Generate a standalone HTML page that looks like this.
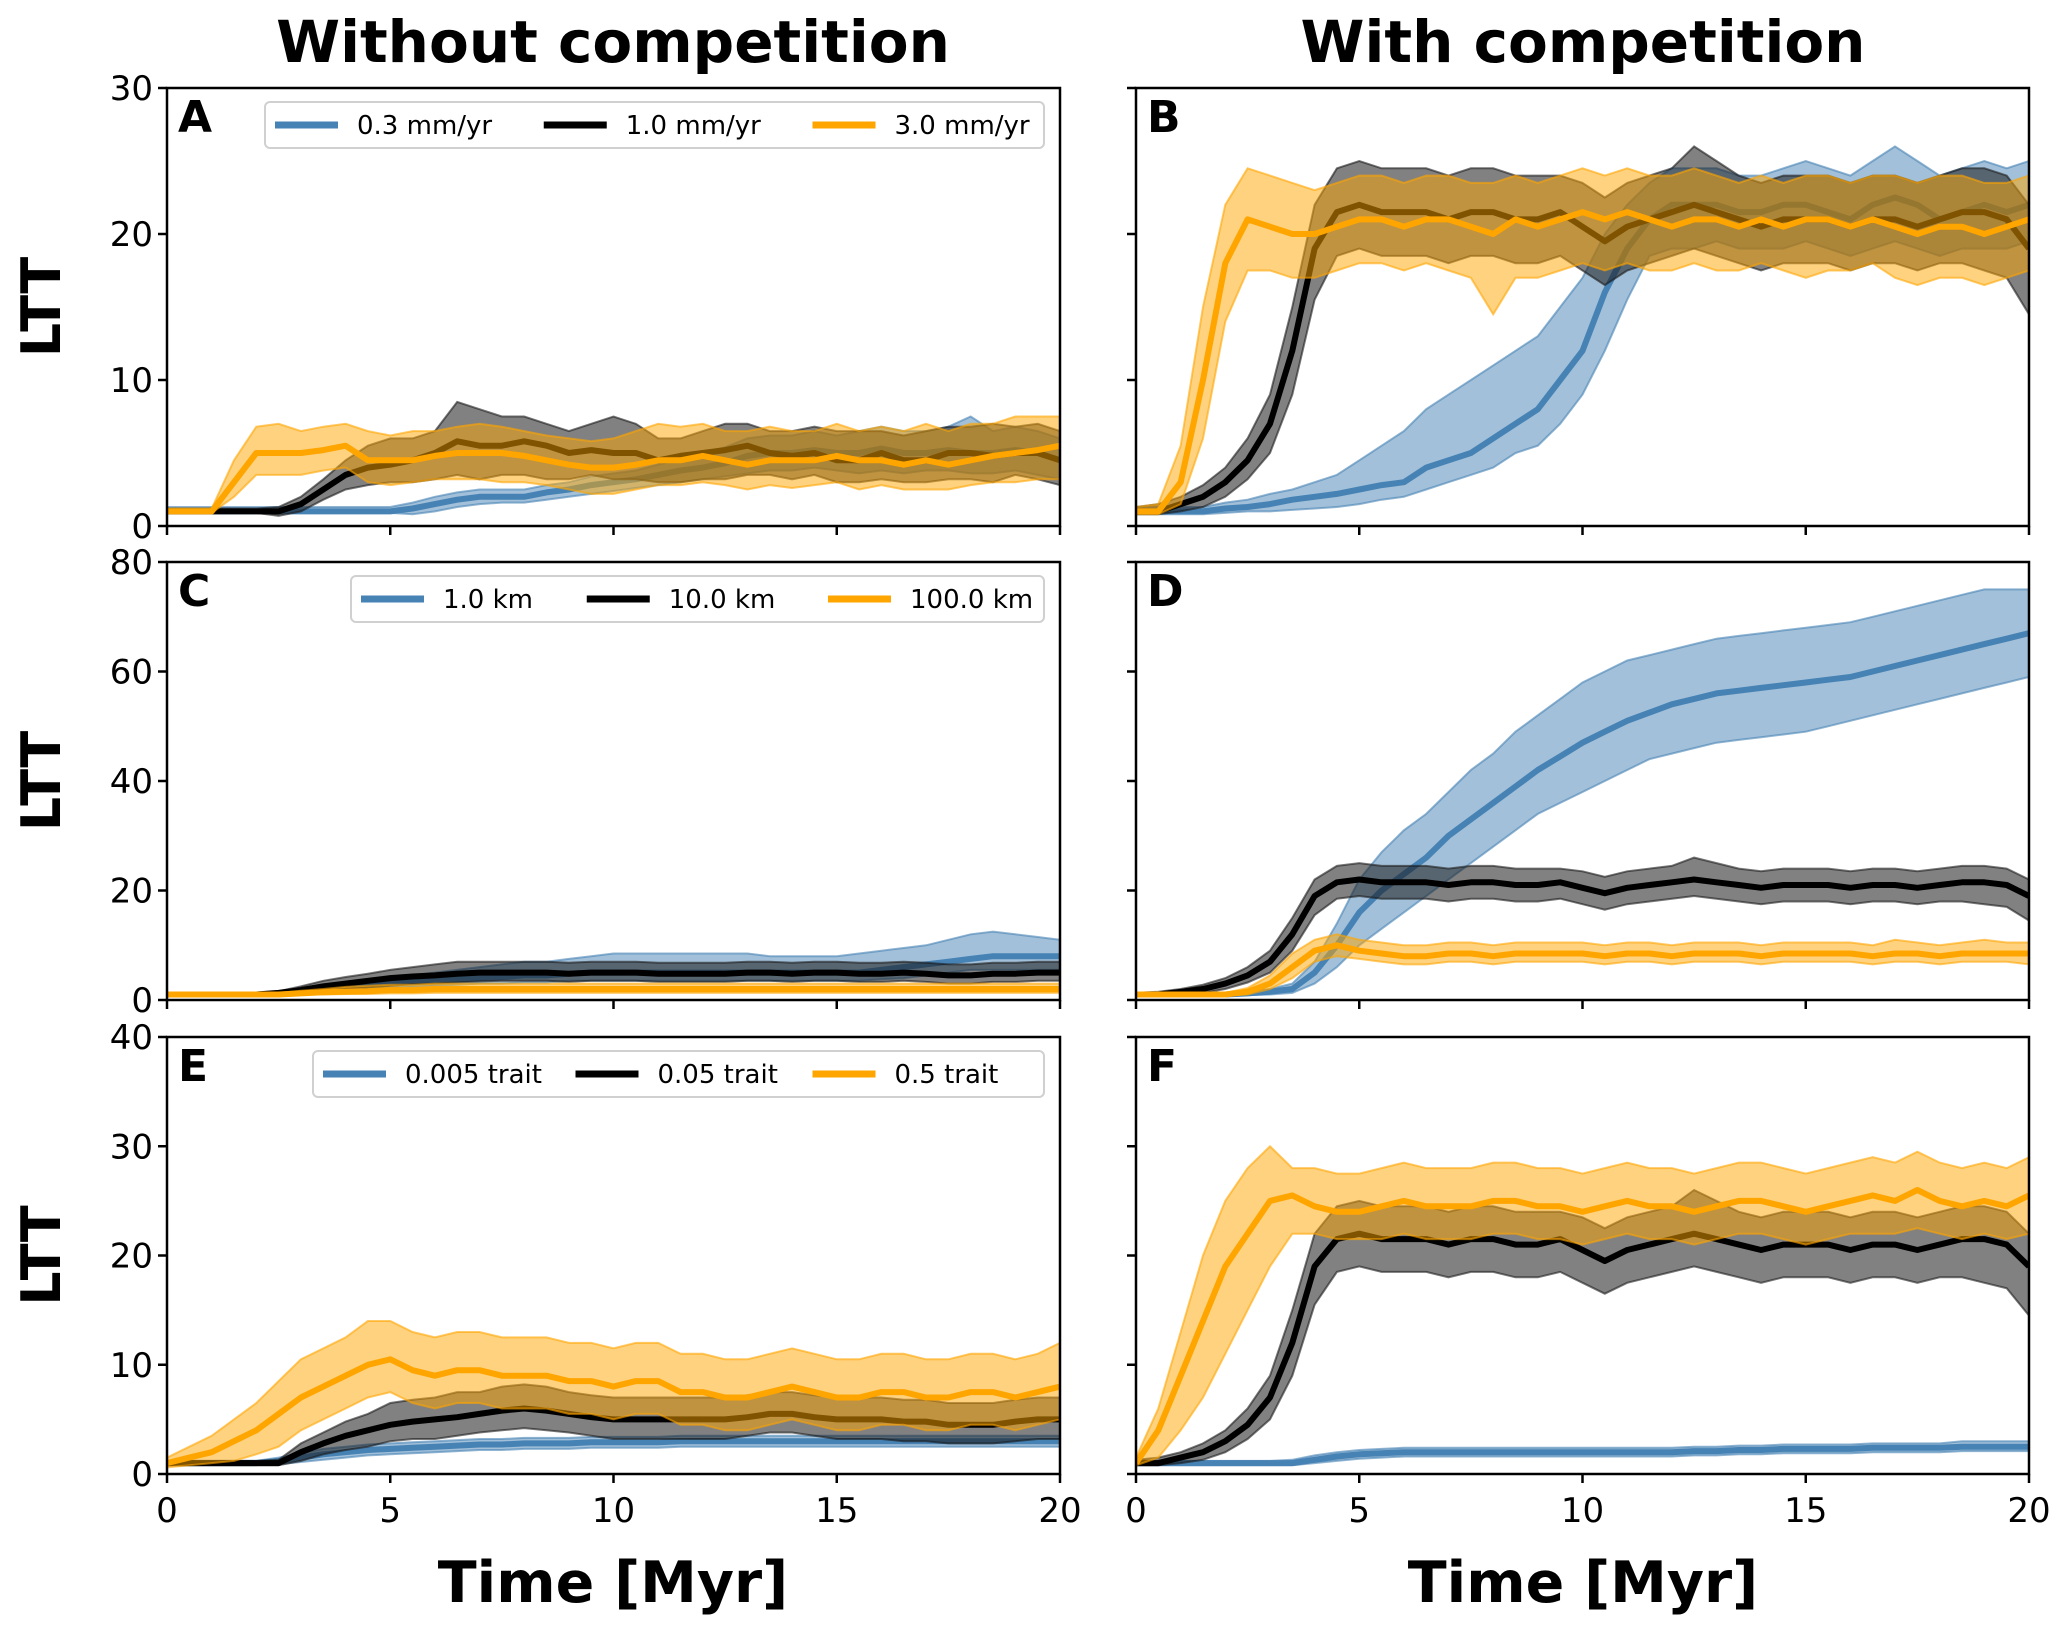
<!DOCTYPE html>
<html><head><meta charset="utf-8"><style>
html,body{margin:0;padding:0;background:#fff}
svg{display:block}
text{font-family:"DejaVu Sans","Liberation Sans",sans-serif}
</style></head><body>
<svg id="fig" width="2067" height="1633" viewBox="0 0 2067 1633" xmlns="http://www.w3.org/2000/svg">
<text x="613" y="62" font-size="58" font-weight="bold" text-anchor="middle">Without competition</text>
<text x="1583" y="62" font-size="58" font-weight="bold" text-anchor="middle">With competition</text>
<text x="613" y="1602" font-size="57" font-weight="bold" text-anchor="middle">Time [Myr]</text>
<text x="1583" y="1602" font-size="57" font-weight="bold" text-anchor="middle">Time [Myr]</text>
<g id="plots"></g>
</svg>
<script>
const timeMyr = [0,0.5,1,1.5,2,2.5,3,3.5,4,4.5,5,5.5,6,6.5,7,7.5,8,8.5,9,9.5,10,10.5,11,11.5,12,12.5,13,13.5,14,14.5,15,15.5,16,16.5,17,17.5,18,18.5,19,19.5,20];
const xTicks = [0,5,10,15,20];
const yTicksA = [0,10,20,30];
const yTicksC = [0,20,40,60,80];
const yTicksE = [0,10,20,30,40];
const legendA = ["0.3 mm/yr","1.0 mm/yr","3.0 mm/yr"];
const legendC = ["1.0 km","10.0 km","100.0 km"];
const legendE = ["0.005 trait","0.05 trait","0.5 trait"];

const blueA_m=[1,1,1,1,1,1,1,1,1,1,1,1.2,1.5,1.8,2,2,2,2.3,2.5,2.8,3,3.2,3.5,3.8,4,4.3,4.8,5,5,5.2,5,5,5.3,5,5,5.2,5,5,5.2,5,4.5];
const blueA_lo=[0.9,0.9,0.9,0.9,0.9,0.9,0.9,0.9,0.9,0.9,0.9,0.8,1,1.3,1.5,1.6,1.6,1.8,2,2.2,2.4,2.6,2.8,3,3.2,3.4,3.6,3.8,3.8,4,3.8,3.6,3.8,3.6,3.8,3.8,3.6,3.6,3.8,3.5,3.2];
const blueA_hi=[1.3,1.3,1.3,1.3,1.3,1.3,1.3,1.3,1.3,1.3,1.3,1.6,2,2.3,2.5,2.5,2.5,2.8,3,3.4,3.6,3.8,4.2,4.6,5,5.4,6,6.2,6.2,6.5,6.2,6.5,6.8,6.5,6.5,6.8,7.5,6.5,6.8,6.5,6];
const blackA_m=[1,1,1,1,1,1,1.5,2.5,3.5,4,4.2,4.5,5,5.8,5.5,5.5,5.8,5.5,5,5.2,5,5,4.5,4.8,5,5.2,5.5,5,4.8,5,4.5,4.5,5,4.5,4.5,5,5,4.8,5,5,4.5];
const blackA_lo=[0.9,0.9,0.9,0.9,0.9,0.7,1,1.8,2.5,2.8,3,3,3.2,3.5,3.2,3.5,3.5,3.2,3.2,3.5,3.2,3.2,3,3,3.2,3.2,3.5,3.5,3.2,3.5,3,3,3.2,3,3,3.2,3.2,3,3.5,3.2,2.8];
const blackA_hi=[1.2,1.2,1.2,1.2,1.2,1.3,2,3.2,4.5,5.5,6,6,6.5,8.5,8,7.5,7.5,7,6.5,7,7.5,7,6,6,6.5,7,7,6.5,6.5,6.8,6.5,6.5,6.5,6.2,6.5,6.8,6.8,7,6.8,7,6.5];
const orangeA_m=[1,1,1,3,5,5,5,5.2,5.5,4.5,4.5,4.5,4.8,5,5,5,4.8,4.5,4.2,4,4,4.2,4.5,4.5,4.8,4.5,4.2,4.5,4.5,4.5,4.8,4.5,4.5,4.2,4.5,4.2,4.5,4.8,5,5.2,5.5];
const orangeA_lo=[0.9,0.9,0.9,2,3.5,3.5,3.5,3.8,4,3,2.8,3,3.2,3.2,3.2,3,3,2.8,2.5,2.2,2.2,2.5,2.8,2.8,3,2.8,2.5,2.8,2.6,2.8,3,2.5,2.8,2.5,2.5,2.5,2.8,3,3,3.2,3.2];
const orangeA_hi=[1.2,1.2,1.2,4.5,6.8,7,6.5,6.8,7,6.5,6.2,6.5,6.5,6.8,7,6.8,6.5,6.2,6,5.8,6,6.5,7,6.8,7,6.5,6.5,6.8,6.5,6.5,7,6.5,6.8,6.5,7,6.5,7,7,7.5,7.5,7.5];

const blueB_m=[1,1,1,1,1.2,1.3,1.5,1.8,2,2.2,2.5,2.8,3,4,4.5,5,6,7,8,10,12,16,19,21,22,22,22,21.5,21.5,22,22,21.5,21,22,22.5,22,21,21.5,22,21.5,22];
const blueB_lo=[0.8,0.8,0.8,0.8,0.9,1,1,1.1,1.2,1.3,1.5,1.8,2,2.5,3,3.5,4,5,5.5,7,9,12,15.5,18.5,19,19,19.5,19,19,19,19.5,19,18.5,19,19.5,19,18.5,19,19,19,19.5];
const blueB_hi=[1.3,1.3,1.3,1.3,1.6,1.8,2.2,2.5,3,3.5,4.5,5.5,6.5,8,9,10,11,12,13,15,17,20,22,23.5,24.5,24.5,24.5,24,24,24.5,25,24.5,24,25,26,25,24,24.5,25,24.5,25];
const blackComp_m=[1,1,1.5,2,3,4.5,7,12,19,21.5,22,21.5,21.5,21.5,21,21.5,21.5,21,21,21.5,20.5,19.5,20.5,21,21.5,22,21.5,21,20.5,21,21,21,20.5,21,21,20.5,21,21.5,21.5,21,19];
const blackComp_lo=[0.8,0.8,1,1.3,2,3.2,5,9,15.5,18.5,19,18.5,18.5,18.5,18,18.5,18.5,18,18,18.5,17.5,16.5,17.5,18,18.5,19,18.5,18,17.5,18,18,18,17.5,18,18,17.5,18,18,17.5,17,14.5];
const blackComp_hi=[1.3,1.5,2,2.8,4,6,9,15,22,24.5,25,24.5,24.5,24.5,24,24.5,24.5,24,24,24,23.5,22.5,23.5,24,24.5,26,25,24,23.5,24,24,24,23.5,24,24,23.5,24,24.5,24.5,24,22];
const orangeB_m=[1,1,3,10,18,21,20.5,20,20,20.5,21,21,20.5,21,21,20.5,20,21,20.5,21,21.5,21,21.5,21,20.5,21,21,20.5,21,20.5,21,21,20.5,21,20.5,20,20.5,20.5,20,20.5,21];
const orangeB_lo=[0.8,0.8,1.5,6,14,17.5,17.5,17,17,17.5,18,18,17.5,18,17.5,17,14.5,17,17,17.5,18,17.5,18,17.5,17.5,18,17.5,17.5,18,17.5,17,17.5,17.5,18,17,16.5,17,17,16.5,17,17.5];
const orangeB_hi=[1.3,1.5,5.5,15,22,24.5,24,23.5,23,23.5,24,24,23.5,24,24,23.5,23.5,24,23.5,24,24.5,24,24.5,24,24,24.5,24,23.5,24,23.5,24,24,23.5,24,24,23.5,24,24,23.5,23.5,24];

const blueC_m=[1,1,1,1,1,1.2,1.5,2,2.3,2.6,3,3.2,3.5,3.8,4,4.2,4.5,4.5,4.8,5,5,5,5,5,5,5,5,5,5,5,5,5,5.5,6,6.5,7,7.5,8,8,8,8];
const blueC_lo=[0.9,0.9,0.9,0.9,0.9,1,1.2,1.5,1.7,2,2.2,2.4,2.6,2.8,3,3,3.2,3.2,3.5,3.5,3.5,3.5,3.5,3.5,3.5,3.5,3.5,3.5,3.5,3.5,3.5,3.5,3.8,4,4.5,5,5.5,5.5,5.5,5.5,5.5];
const blueC_hi=[1.2,1.2,1.2,1.2,1.2,1.5,2,2.8,3.2,3.5,4,4.5,5,5.5,6,6.5,7,7,7.5,8,8.5,8.5,8.5,8.5,8.5,8.5,8.5,8,8,8,8,8.5,9,9.5,10,11,12,12.5,12,11.5,11];
const blackC_m=[1,1,1,1,1,1.3,1.8,2.5,3,3.5,4,4.3,4.5,4.8,5,5,5,5,4.8,5,5,5,4.8,4.8,4.8,4.8,5,5,4.8,5,5,4.8,4.8,5,4.8,4.5,4.5,4.8,4.8,5,5];
const blackC_lo=[0.9,0.9,0.9,0.9,0.9,1,1.2,1.6,2,2.3,2.6,2.9,3,3.2,3.4,3.5,3.5,3.5,3.3,3.5,3.5,3.5,3.3,3.3,3.3,3.3,3.5,3.5,3.3,3.5,3.5,3.3,3.3,3.5,3.3,3,3,3.3,3.3,3.5,3.5];
const blackC_hi=[1.2,1.2,1.2,1.2,1.2,1.6,2.5,3.5,4.2,4.8,5.5,6,6.5,7,7,7,7,7,6.8,7,7,7,6.8,6.8,6.8,6.8,7,7,6.8,7,7,6.8,6.8,7,6.8,6.5,6.5,6.8,6.8,7,7];
const orangeC_m=[1,1,1,1,1,1,1.2,1.4,1.5,1.6,1.8,1.8,2,2,2,2,2,2,2,2,2,2,2,2,2,2,2,2,2,2,2,2,2,2,2,2,2,2,2,2,2];
const orangeC_lo=[0.9,0.9,0.9,0.9,0.9,0.9,1,1,1.1,1.1,1.2,1.2,1.3,1.3,1.3,1.3,1.3,1.3,1.3,1.3,1.3,1.3,1.3,1.3,1.3,1.3,1.3,1.3,1.3,1.3,1.3,1.3,1.3,1.3,1.3,1.3,1.3,1.3,1.3,1.3,1.3];
const orangeC_hi=[1.2,1.2,1.2,1.2,1.2,1.3,1.7,2,2.4,2.6,2.8,2.8,3,3,3,3,3,3,3,3,3,3,3,3,3,3,3,3,3,3,3,3,3,3,3,3,3,3,3,3,3];

const blueD_m=[1,1,1,1,1,1.2,1.5,2,5,10,16,20,23,26,30,33,36,39,42,44.5,47,49,51,52.5,54,55,56,56.5,57,57.5,58,58.5,59,60,61,62,63,64,65,66,67];
const blueD_lo=[0.8,0.8,0.8,0.8,0.8,0.9,1,1.3,3,6,10,13,16,19,22,25,28,31,34,36,38,40,42,44,45,46,47,47.5,48,48.5,49,50,51,52,53,54,55,56,57,58,59];
const blueD_hi=[1.3,1.3,1.3,1.3,1.3,1.5,2,3,7,14,22,27,31,34,38,42,45,49,52,55,58,60,62,63,64,65,66,66.5,67,67.5,68,68.5,69,70,71,72,73,74,75,75,75];
const orangeD_m=[1,1,1,1,1,1.5,3,6,9,10,9,8.5,8,8,8.5,8.5,8,8.5,8.5,8.5,8.5,8,8.5,8.5,8,8.5,8.5,8.5,8,8.5,8.5,8.5,8.5,8,8.5,8.5,8,8.5,8.5,8.5,8.5];
const orangeD_lo=[0.8,0.8,0.8,0.8,0.8,1,2,4,7,8,7.5,7,6.5,6.5,7,7,6.5,7,7,7,7,6.5,7,7,6.5,7,7,7,6.5,7,7,7,7,6.5,7,7,6.5,7,7,7,6.5];
const orangeD_hi=[1.3,1.3,1.3,1.3,1.3,2.2,4.5,8.5,11,12,11,10.5,10,10,10.5,10.5,10,10.5,10.5,10.5,10.5,10,10.5,10.5,10,10.5,10.5,10.5,10,10.5,10.5,10.5,10.5,10,11,10.5,10,10.5,11,10.5,10.5];

const blueE_m=[1,1,1,1,1,1.2,1.5,1.8,2,2.2,2.3,2.4,2.5,2.6,2.7,2.7,2.8,2.8,2.8,2.9,2.9,2.9,2.9,3,3,3,3,3,3,3,3,3,3,3,3,3,3,3,3,3,3];
const blueE_lo=[0.9,0.9,0.9,0.9,0.9,0.9,1.1,1.3,1.5,1.7,1.8,1.9,2,2.1,2.2,2.2,2.3,2.3,2.3,2.4,2.4,2.4,2.4,2.5,2.5,2.5,2.5,2.5,2.5,2.5,2.5,2.5,2.5,2.5,2.5,2.5,2.5,2.5,2.5,2.5,2.5];
const blueE_hi=[1.2,1.2,1.2,1.2,1.2,1.5,1.9,2.3,2.5,2.7,2.8,2.9,3,3.1,3.2,3.2,3.3,3.3,3.3,3.4,3.4,3.4,3.4,3.5,3.5,3.5,3.5,3.5,3.5,3.5,3.5,3.5,3.5,3.5,3.5,3.5,3.5,3.5,3.5,3.5,3.5];
const blackE_m=[1,1,1,1,1,1,2,2.8,3.5,4,4.5,4.8,5,5.2,5.5,5.8,6,5.8,5.5,5.2,5,5,5,5,5,5,5.2,5.5,5.5,5.2,5,5,5,4.8,4.8,4.5,4.5,4.5,4.8,5,5];
const blackE_lo=[0.8,0.8,0.8,0.8,0.8,0.8,1.2,1.8,2.2,2.5,3,3.2,3.2,3.5,3.8,4,4.2,4,3.8,3.5,3.2,3.2,3.2,3.2,3.2,3.2,3.5,3.8,3.8,3.5,3.2,3.2,3.2,3,3,2.8,2.8,2.8,3,3.2,3.2];
const blackE_hi=[1.2,1.2,1.2,1.2,1.2,1.3,2.8,3.8,4.8,5.5,6.5,6.8,7,7.5,7.5,8,8.2,8,7.5,7.2,7,7,7,7,7,7,7.2,7.5,7.5,7.2,7,7,7,6.8,6.8,6.5,6.5,6.5,6.8,7,7];
const orangeE_m=[1,1.5,2,3,4,5.5,7,8,9,10,10.5,9.5,9,9.5,9.5,9,9,9,8.5,8.5,8,8.5,8.5,7.5,7.5,7,7,7.5,8,7.5,7,7,7.5,7.5,7,7,7.5,7.5,7,7.5,8];
const orangeE_lo=[0.6,0.8,1,1.2,1.8,2.5,4,5,6,7,7.5,6.5,6,6.5,6.5,6,6,6,5.5,5.5,5,5.5,5.5,4.5,4.5,4,4,4.5,5,4.5,4,4,4.5,4.5,4,4,4.5,4.5,4,4.5,5];
const orangeE_hi=[1.5,2.5,3.5,5,6.5,8.5,10.5,11.5,12.5,14,14,13,12.5,13,13,12.5,12.5,12.5,12,12,11.5,12,12,11,11,10.5,10.5,11,11.5,11,10.5,10.5,11,11,10.5,10.5,11,11,10.5,11,12];

const blueF_m=[1,1,1,1,1,1,1,1,1.3,1.6,1.8,1.9,2,2,2,2,2,2,2,2,2,2,2,2,2,2.1,2.1,2.2,2.2,2.3,2.3,2.3,2.3,2.4,2.4,2.4,2.4,2.5,2.5,2.5,2.5];
const blueF_lo=[0.8,0.8,0.8,0.8,0.8,0.8,0.8,0.8,1,1.2,1.4,1.5,1.6,1.6,1.6,1.6,1.6,1.6,1.6,1.6,1.6,1.6,1.6,1.6,1.6,1.7,1.7,1.8,1.8,1.9,1.9,1.9,1.9,2,2,2,2,2.1,2.1,2.1,2.1];
const blueF_hi=[1.2,1.2,1.2,1.2,1.2,1.2,1.2,1.3,1.7,2,2.2,2.3,2.4,2.4,2.4,2.4,2.4,2.4,2.4,2.4,2.4,2.4,2.4,2.4,2.4,2.5,2.5,2.6,2.6,2.7,2.7,2.7,2.7,2.8,2.8,2.8,2.8,3,3,3,3];
const orangeF_m=[1,4,9,14,19,22,25,25.5,24.5,24,24,24.5,25,24.5,24.5,24.5,25,25,24.5,24.5,24,24.5,25,24.5,24.5,24,24.5,25,25,24.5,24,24.5,25,25.5,25,26,25,24.5,25,24.5,25.5];
const orangeF_lo=[0.8,1.5,4,7,11,15,19,22,22,21.5,21.5,21.5,22,21.5,21.5,21.5,22,22,21.5,21.5,21,21.5,22,21.5,21.5,21,21.5,22,22,21.5,21,21.5,22,22,22,22.5,22,21.5,22,21.5,22];
const orangeF_hi=[1.5,6,13,20,25,28,30,28,28,27.5,27.5,28,28.5,28,28,28,28.5,28.5,28,28,27.5,28,28.5,28,28,27.5,28,28.5,28.5,28,27.5,28,28.5,29,28.5,29.5,28.5,28,28.5,28,29];

const NS='http://www.w3.org/2000/svg';
const COL=['#4682b4','#000000','#ffa500'];
const FILL=['#4682b4','#1a1a1a','#ffa500'];
const FOP=[0.5,0.55,0.5];
const L1=167,R1=1060,L2=1136,R2=2029;
const rows=[[88,526],[562,1000],[1037,1474]];
const panels=[
 {id:'A',x0:L1,x1:R1,r:0,ymax:30,yt:yTicksA,lab:true,leg:legendA,legx:265,s:[[blueA_m,blueA_lo,blueA_hi],[blackA_m,blackA_lo,blackA_hi],[orangeA_m,orangeA_lo,orangeA_hi]]},
 {id:'B',x0:L2,x1:R2,r:0,ymax:30,yt:yTicksA,lab:false,s:[[blueB_m,blueB_lo,blueB_hi],[blackComp_m,blackComp_lo,blackComp_hi],[orangeB_m,orangeB_lo,orangeB_hi]]},
 {id:'C',x0:L1,x1:R1,r:1,ymax:80,yt:yTicksC,lab:true,leg:legendC,legx:351,s:[[blueC_m,blueC_lo,blueC_hi],[blackC_m,blackC_lo,blackC_hi],[orangeC_m,orangeC_lo,orangeC_hi]]},
 {id:'D',x0:L2,x1:R2,r:1,ymax:80,yt:yTicksC,lab:false,s:[[blueD_m,blueD_lo,blueD_hi],[blackComp_m,blackComp_lo,blackComp_hi],[orangeD_m,orangeD_lo,orangeD_hi]]},
 {id:'E',x0:L1,x1:R1,r:2,ymax:40,yt:yTicksE,lab:true,leg:legendE,legx:313,s:[[blueE_m,blueE_lo,blueE_hi],[blackE_m,blackE_lo,blackE_hi],[orangeE_m,orangeE_lo,orangeE_hi]]},
 {id:'F',x0:L2,x1:R2,r:2,ymax:40,yt:yTicksE,lab:false,s:[[blueF_m,blueF_lo,blueF_hi],[blackComp_m,blackComp_lo,blackComp_hi],[orangeF_m,orangeF_lo,orangeF_hi]]}
];
const root=document.getElementById('plots');
function mk(tag,attrs,parent){const e=document.createElementNS(NS,tag);for(const k in attrs)e.setAttribute(k,attrs[k]);(parent||root).appendChild(e);return e;}
const snames=['blue','black','orange'];
panels.forEach(p=>{
 const y0=rows[p.r][0],y1=rows[p.r][1];
 const X=t=>p.x0+(t/20)*(p.x1-p.x0);
 const Y=v=>y1-(v/p.ymax)*(y1-y0);
 const g=mk('g',{});
 
 
 const cid='clip'+p.id;
 const cp=mk('clipPath',{id:cid},g);mk('rect',{x:p.x0,y:y0,width:p.x1-p.x0,height:y1-y0},cp);
 const dg=mk('g',{'clip-path':'url(#'+cid+')'},g);
 p.s.forEach((s,i)=>{
  const [m,lo,hi]=s;
  let d='M'+timeMyr.map((t,j)=>X(t).toFixed(1)+','+Y(hi[j]).toFixed(1)).join('L');
  for(let j=timeMyr.length-1;j>=0;j--)d+='L'+X(timeMyr[j]).toFixed(1)+','+Y(lo[j]).toFixed(1);
  const band=mk('path',{d:d+'Z',fill:FILL[i],'fill-opacity':FOP[i],stroke:FILL[i],'stroke-opacity':0.6,'stroke-width':2},dg);
  
  
  const ln=mk('polyline',{points:timeMyr.map((t,j)=>X(t).toFixed(1)+','+Y(m[j]).toFixed(1)).join(' '),fill:'none',stroke:COL[i],'stroke-width':6,'stroke-linejoin':'round'},dg);
  
  
 });
 const fr=mk('rect',{x:p.x0,y:y0,width:p.x1-p.x0,height:y1-y0,fill:'none',stroke:'#000','stroke-width':2.5},g);
 
 
 xTicks.forEach(t=>{
  mk('line',{x1:X(t),x2:X(t),y1:y1,y2:y1+9,stroke:'#000','stroke-width':2.5},g);
  if(p.r===2){const tx=mk('text',{x:X(t),y:y1+48,'font-size':34,'text-anchor':'middle'},g);tx.textContent=t;
   
   }
 });
 p.yt.forEach(v=>{
  mk('line',{x1:p.x0-9,x2:p.x0,y1:Y(v),y2:Y(v),stroke:'#000','stroke-width':2.5},g);
  if(p.lab){const tx=mk('text',{x:p.x0-14,y:Y(v)+12,'font-size':34,'text-anchor':'end'},g);tx.textContent=v;
   
   }
 });
 if(p.lab){
  const cy=(y0+y1)/2;
  const yl=mk('text',{x:60,y:cy,'font-size':54,'font-weight':'bold','text-anchor':'middle',transform:'rotate(-90 60 '+cy+')'},g);
  yl.textContent='LTT';
  
  
 }
 const pl=mk('text',{x:p.x0+11,y:y0+44,'font-size':44,'font-weight':'bold'},g);
 pl.textContent=p.id;
 
 
 if(p.leg){
  const lg=mk('g',{},g);
  
  
  const lx0=p.legx,lx1=1044,ly0=y0+14,ly1=y0+60;
  mk('rect',{x:lx0,y:ly0,width:lx1-lx0,height:ly1-ly0,rx:5,fill:'#fff','fill-opacity':0.85,stroke:'#d0d0d0','stroke-width':2},lg);
  const w=(lx1-lx0);
  const tw=p.leg.map(s=>s.length*15.5+63+19);
  const gap=(w-20-tw.reduce((a,b)=>a+b,0))/2;
  let cx=lx0+10;
  p.leg.forEach((s,i)=>{
   const eg=mk('g',{},lg);
   
   
   mk('line',{x1:cx,x2:cx+63,y1:(ly0+ly1)/2,y2:(ly0+ly1)/2,stroke:COL[i],'stroke-width':7},eg);
   const tx=mk('text',{x:cx+82,y:(ly0+ly1)/2+9,'font-size':26},eg);tx.textContent=s;
   cx+=tw[i]+gap;
  });
 }
});
</script>
</body></html>
